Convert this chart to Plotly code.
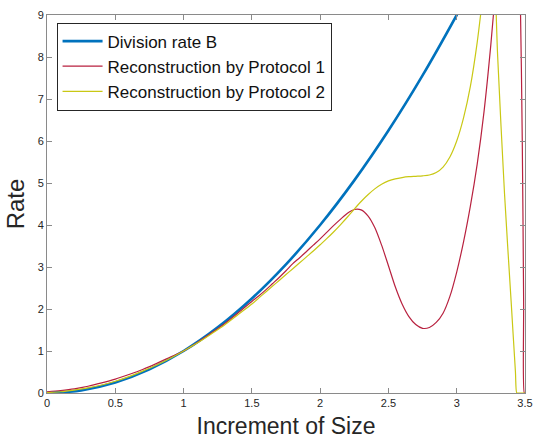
import plotly.graph_objects as go

# Increment of size (x) and the rates read along it
x_blue = [0.0, 0.25, 0.5, 0.75, 1.0, 1.25, 1.5, 1.75, 2.0, 2.25, 2.5, 2.75, 3.0, 3.1]
rate_B = [0.0, 0.0625, 0.25, 0.5625, 1.0, 1.5625, 2.25, 3.0625, 4.0, 5.0625, 6.25, 7.5625, 9.0, 9.61]

x_p1 = [0.0, 0.1, 0.2, 0.3, 0.4, 0.5, 0.6, 0.7, 0.8, 0.9, 1.0, 1.1, 1.2, 1.3, 1.4,
        1.5, 1.55, 1.6, 1.65, 1.7, 1.75, 1.8, 1.85, 1.9, 1.95, 2.0, 2.05, 2.1, 2.15,
        2.2, 2.25, 2.3, 2.35, 2.4, 2.45, 2.5, 2.55, 2.6, 2.65, 2.7, 2.75, 2.8, 2.85,
        2.9, 2.95, 3.0, 3.05, 3.1, 3.15, 3.2, 3.25, 3.3, 3.35, 3.4, 3.44, 3.465,
        3.48, 3.49, 3.495, 3.5]
rate_p1 = [0.03, 0.06, 0.10, 0.16, 0.24, 0.33, 0.44, 0.56, 0.70, 0.85, 1.0, 1.2,
           1.42, 1.65, 1.91, 2.18, 2.31, 2.45, 2.6, 2.75, 2.91, 3.08, 3.22, 3.37,
           3.52, 3.67, 3.83, 3.99, 4.14, 4.28, 4.37, 4.36, 4.22, 3.94, 3.52, 3.03,
           2.53, 2.12, 1.82, 1.63, 1.54, 1.56, 1.68, 1.9, 2.3, 2.88, 3.6, 4.45, 5.45,
           6.7, 8.3, 10.2, 12.0, 13.0, 12.5, 9.5, 6.0, 2.2, 0.0, 0.0]

x_p2 = [0.0, 0.1, 0.2, 0.3, 0.4, 0.5, 0.6, 0.7, 0.8, 0.9, 1.0, 1.1, 1.2, 1.3, 1.4,
        1.5, 1.55, 1.6, 1.65, 1.7, 1.75, 1.8, 1.85, 1.9, 1.95, 2.0, 2.05, 2.1, 2.15,
        2.2, 2.25, 2.3, 2.35, 2.4, 2.45, 2.5, 2.55, 2.6, 2.65, 2.7, 2.75, 2.8, 2.85,
        2.9, 2.95, 3.0, 3.05, 3.1, 3.15, 3.2, 3.24, 3.27, 3.3, 3.35, 3.4, 3.43,
        3.44, 3.45, 3.5]
rate_p2 = [0.01, 0.03, 0.07, 0.12, 0.19, 0.28, 0.39, 0.52, 0.66, 0.82, 1.0, 1.19,
           1.4, 1.62, 1.87, 2.12, 2.26, 2.4, 2.54, 2.68, 2.82, 2.96, 3.1, 3.24, 3.38,
           3.53, 3.68, 3.84, 4.01, 4.19, 4.38, 4.56, 4.72, 4.86, 4.97, 5.05, 5.1,
           5.13, 5.15, 5.16, 5.17, 5.19, 5.25, 5.38, 5.62, 6.0, 6.55, 7.3, 8.35, 9.7,
           10.8, 10.3, 8.0, 4.75, 2.1, 0.5, 0.0, 0.0, 0.0]

font = "Liberation Sans, Arial, Helvetica, sans-serif"
axis_col = "#262626"

fig = go.Figure()
fig.add_trace(go.Scatter(x=x_blue, y=rate_B, mode="lines", name="Division rate B",
                         line=dict(color="#0072BD", width=2.6, shape="spline")))
fig.add_trace(go.Scatter(x=x_p1, y=rate_p1, mode="lines", name="Reconstruction by Protocol 1",
                         line=dict(color="#B8213F", width=1.2, shape="spline", smoothing=0.8)))
fig.add_trace(go.Scatter(x=x_p2, y=rate_p2, mode="lines", name="Reconstruction by Protocol 2",
                         line=dict(color="#C9C814", width=1.2, shape="spline", smoothing=0.8)))

axis_common = dict(
    showgrid=False, zeroline=False, showline=True, linecolor="#8a8a8a", linewidth=1,
    mirror="ticks", ticks="inside", ticklen=5, tickcolor="#8a8a8a",
    tickfont=dict(family=font, size=11, color=axis_col),
)

fig.update_xaxes(range=[0, 3.5], tickvals=[0, 0.5, 1, 1.5, 2, 2.5, 3, 3.5],
                 ticktext=["0", "0.5", "1", "1.5", "2", "2.5", "3", "3.5"],
                 title=dict(text="Increment of Size", font=dict(family=font, size=23, color=axis_col),
                            standoff=9),
                 **axis_common)
fig.update_yaxes(range=[0, 9], tickvals=list(range(10)),
                 title=dict(text="Rate", font=dict(family=font, size=24, color=axis_col),
                            standoff=6),
                 **axis_common)

fig.update_layout(
    width=542, height=446,
    margin=dict(l=47, r=9, t=12, b=53),
    paper_bgcolor="white", plot_bgcolor="white",
    showlegend=True,
    legend=dict(x=0.02, y=0.98, xanchor="left", yanchor="top",
                bgcolor="white", bordercolor="#262626", borderwidth=1,
                font=dict(family=font, size=17, color="#111111"),
                itemwidth=40, tracegroupgap=0),
)

fig.write_html("out.html")
